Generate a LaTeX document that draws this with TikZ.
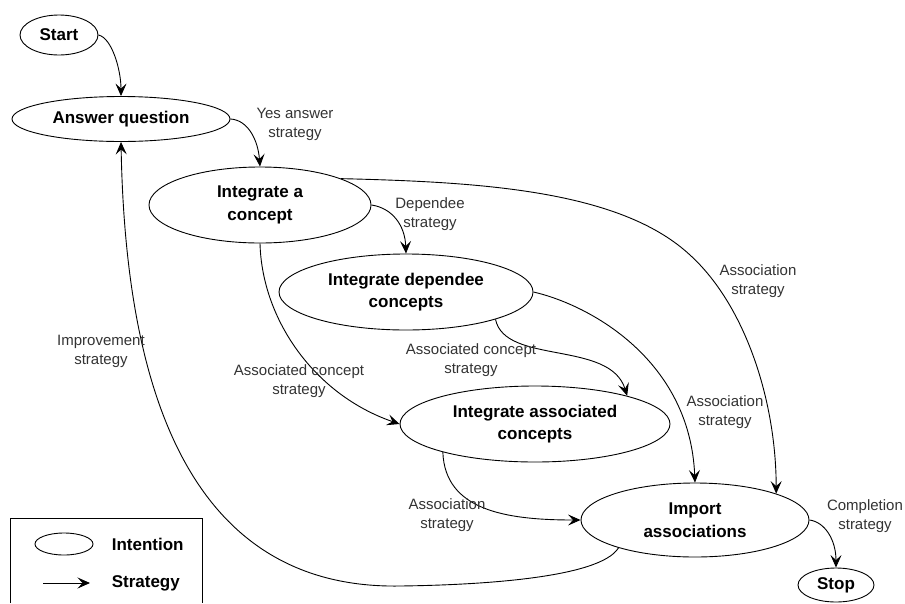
\documentclass[tikz,border=0pt]{standalone}
\usepackage{fontspec}
\setmainfont{Liberation Sans}
\usetikzlibrary{arrows.meta,shapes.geometric}

\begin{document}
\begin{tikzpicture}[
        x=1pt, y=-1pt,
        line width=0.9pt,
        intention/.style={draw, ellipse, inner sep=0pt, align=center,
            font=\fontsize{17}{22.5}\selectfont\bfseries},
        strategy/.style={-{Stealth[length=12.5pt,width=11pt,inset=5pt]}},
        lbl/.style={align=center, text=black!80, font=\fontsize{15}{19}\selectfont}
    ]
	\useasboundingbox (0,0) rectangle (905,603);
	% intentions
	\foreach \n/\x/\y/\w/\h/\t in {start/59/35/78/40/Start,
	        answer/121/119/218/45/Answer question,
	        concept/260/205/222/76/{Integrate a\\concept},
	        dependee/406/292/254/76/{Integrate dependee\\concepts},
	        associated/535/424/270/76/{Integrate associated\\concepts},
	        import/695/520/228/74/{Import\\associations},
	        stop/836/585/76/34/Stop}
		{
		   \node[intention, minimum width=\w pt, minimum height=\h pt] (\n) at (\x,\y) {\t};
		};
	% strategies
	\draw[strategy] (start.east) .. controls (112,38) and (121,70) .. (answer.north);
	\draw[strategy] (answer.east) .. controls (248,120) and (258,140) .. (concept.north);
	\draw[strategy] (concept.east) .. controls (392,208) and (405,225) .. (dependee.north);
	\draw[strategy] (concept.18) .. controls (480,182) and (620,190) .. (690,255)
	    .. controls (745,305) and (776,400) .. (import.18);
	\draw[strategy] (concept.south) .. controls (262,320) and (315,395) .. (associated.west);
	\draw[strategy] (dependee.-17) .. controls (505,365) and (610,340) .. (associated.17);
	\draw[strategy] (dependee.east) .. controls (590,305) and (690,360) .. (import.north);
	\draw[strategy] (associated.197) .. controls (445,510) and (505,520) .. (import.west);
	\draw[strategy] (import.east) .. controls (825,522) and (836,540) .. (stop.north);
	\draw[strategy] (import.200) .. controls (600,578) and (480,585) .. (400,586)
	    .. controls (170,590) and (125,350) .. (answer.south);
	% labels
	\foreach \n/\x/\y/\t in {yes/295/124/{Yes answer\\strategy},
	        dep/430/214/{Dependee\\strategy},
	        assocA/758/281/{Association\\strategy},
	        conceptA/299/381/{Associated concept\\strategy},
	        conceptB/471/360/{Associated concept\\strategy},
	        assocB/725/412/{Association\\strategy},
	        assocC/447/515/{Association\\strategy},
	        compl/865/516/{Completion\\strategy},
	        impr/101/351/{Improvement\\strategy}}
		{
		  \node[lbl] (\n) at (\x,\y) {\t};
		};
	% legend
	\draw (10,603) -- (10,518) -- (202,518) -- (202,603);
	\node[draw, ellipse, minimum width=58pt, minimum height=22pt] (legInt) at (64,544) {};
	\coordinate (legA) at (43,583);
	\coordinate (legB) at (90,583);
	\draw[strategy] (legA) -- (legB);
	\node[anchor=west, font=\fontsize{17}{22.5}\selectfont\bfseries] (legIntTxt) at (108,544) {Intention};
	\node[anchor=west, font=\fontsize{17}{22.5}\selectfont\bfseries] (legStrTxt) at (108,583) {Strategy};
\end{tikzpicture}
\end{document}
